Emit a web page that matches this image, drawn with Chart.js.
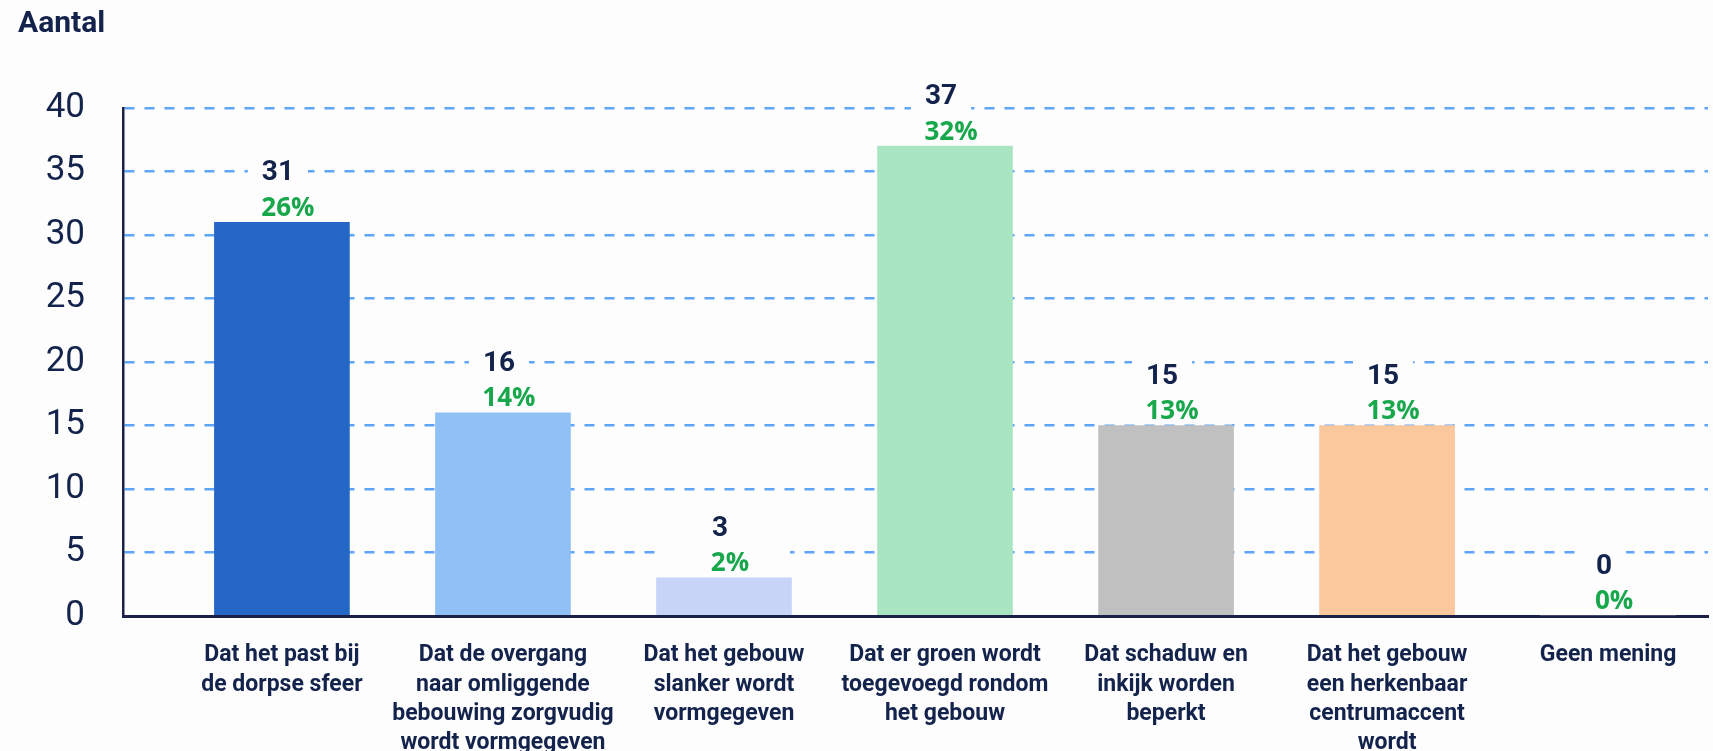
<!DOCTYPE html>
<html>
<head>
<meta charset="utf-8">
<script src="https://cdn.jsdelivr.net/npm/chart.js@4.4.1/dist/chart.umd.min.js"></script>
<style>
  html, body { margin: 0; padding: 0; background: #fdfdfe; }
  #wrap { width: 1713px; height: 751px; position: relative; }
</style>
</head>
<body>
<div id="wrap"><canvas id="chart"></canvas></div>
<script>
// Data
const categories = [
    ['Dat het past bij', 'de dorpse sfeer'],
    ['Dat de overgang', 'naar omliggende', 'bebouwing zorgvudig', 'wordt vormgegeven'],
    ['Dat het gebouw', 'slanker wordt', 'vormgegeven'],
    ['Dat er groen wordt', 'toegevoegd rondom', 'het gebouw'],
    ['Dat schaduw en', 'inkijk worden', 'beperkt'],
    ['Dat het gebouw', 'een herkenbaar', 'centrumaccent', 'wordt'],
    ['Geen mening']
];
const counts = [31, 16, 3, 37, 15, 15, 0];
const percents = [26, 14, 2, 32, 13, 13, 0];
const yTickStep = 5;
const yMax = 40;

const barColors = ['#2467c6', '#8fc0f6', '#c8d3f8', '#aae5c2', '#c0c0c0', '#fbc79d', '#cccccc'];
const navy = '#13234b';
const green = '#17a84b';
const bg = '#fdfdfe';

// Count + percentage labels above each bar
const valueLabels = {
    id: 'valueLabels',
    afterDatasetsDraw(chart) {
        const ctx = chart.ctx;
        const meta = chart.getDatasetMeta(0);
        ctx.save();
        meta.data.forEach((bar, i) => {
            const top = bar.y;
            const countText = String(counts[i]);
            const pctText = percents[i] + '%';

            ctx.font = 'bold 28px Roboto';
            const cw = ctx.measureText(countText).width;
            ctx.fillStyle = bg;
            ctx.fillRect(bar.x - 4 - cw / 2 - 14, top - 65, cw + 28, 32);
            ctx.fillRect(bar.x - 66, top - 31, 132, 30);

            ctx.textAlign = 'center';
            ctx.textBaseline = 'middle';
            ctx.fillStyle = navy;
            ctx.fillText(countText, bar.x - 4, top - 49);

            ctx.font = 'bold 26px "Open Sans"';
            ctx.fillStyle = green;
            ctx.fillText(pctText, bar.x + 6, top - 14);
        });
        ctx.restore();
    }
};

const ctx = document.getElementById('chart').getContext('2d');
new Chart(ctx, {
    type: 'bar',
    data: {
        datasets: [{
            data: counts.map((v, i) => ({ x: i, y: v })),
            backgroundColor: barColors,
            borderWidth: 0,
            barThickness: 135
        }]
    },
    options: {
        responsive: true,
        maintainAspectRatio: false,
        animation: false,
        layout: { padding: { left: 18, right: 5, top: 0, bottom: 0 } },
        plugins: {
            legend: { display: false },
            tooltip: { enabled: false },
            title: {
                display: true,
                text: 'Aantal',
                align: 'start',
                color: navy,
                font: { family: 'Roboto', size: 30, weight: 'bold' },
                padding: { top: 6, bottom: 66 }
            }
        },
        scales: {
            x: {
                type: 'linear',
                offset: false,
                min: -0.719,
                max: 6.452,
                grid: { display: false, drawTicks: false, offset: false },
                border: { display: true, color: '#1b2146', width: 3 },
                ticks: {
                    stepSize: 1,
                    includeBounds: false,
                    autoSkip: false,
                    maxRotation: 0,
                    minRotation: 0,
                    padding: 25,
                    color: navy,
                    font: { family: 'Roboto', size: 23, weight: 'bold', lineHeight: 1.27 },
                    callback: (v) => categories[v] || ''
                },
                afterFit: (scale) => { scale.height = 135; }
            },
            y: {
                min: 0,
                max: yMax,
                grid: { color: '#5ea5f8', lineWidth: 2.5, drawTicks: false },
                border: { display: true, color: '#1b2146', width: 2.5, dash: [10, 10] },
                ticks: {
                    stepSize: yTickStep,
                    padding: 38,
                    color: navy,
                    font: { family: 'Roboto', size: 35 }
                },
                afterFit: (scale) => { scale.width = 105; }
            }
        }
    },
    plugins: [valueLabels]
});
</script>
</body>
</html>
